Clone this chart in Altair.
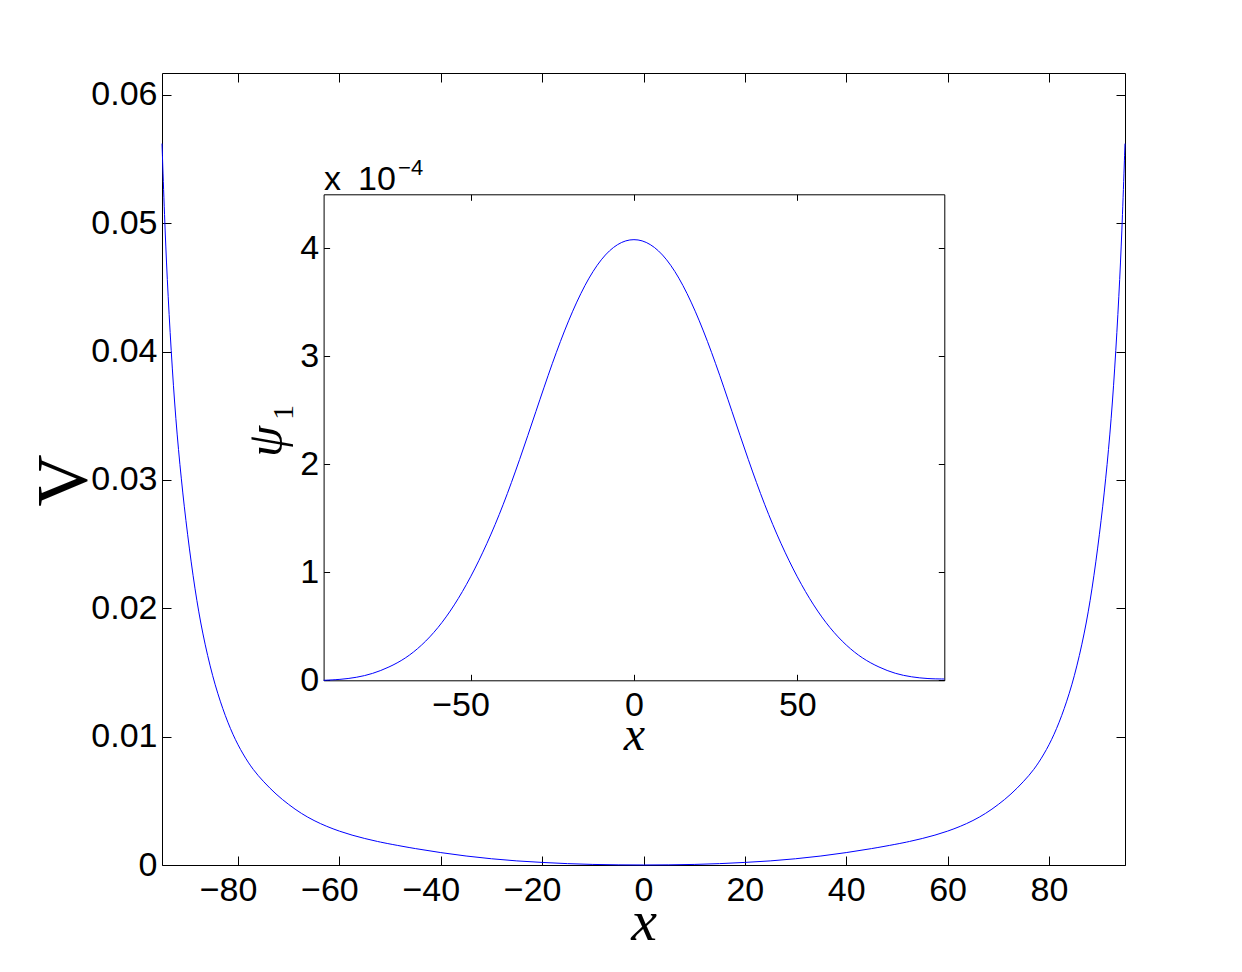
import altair as alt
import pandas as pd

# ---------------- data ----------------
# main curve V(x)
x_main = [-95, -94.5, -94, -93.2, -92.3, -91.2, -90, -88.5, -87, -85, -83, -81, -79, -77, -75,
          -72.5, -70, -67.5, -65, -62.5, -60, -57.5, -55, -52.5, -50, -45, -40, -35, -30, -25,
          -20, -15, -10, -5, 0,
          5, 10, 15, 20, 25, 30, 35, 40, 45, 50, 52.5, 55, 57.5, 60, 62.5, 65, 67.5, 70, 72.5,
          75, 77, 79, 81, 83, 85, 87, 88.5, 90, 91.2, 92.3, 93.2, 94, 94.5, 95]
v_main = [0.0562, 0.0505, 0.0458, 0.0400, 0.0347, 0.0300, 0.0258, 0.0214, 0.0180, 0.0146,
          0.0121, 0.0101, 0.0086, 0.0074, 0.0065, 0.0055, 0.0047, 0.0040, 0.00345, 0.00300,
          0.00263, 0.00232, 0.00206, 0.00183, 0.00163, 0.00127, 0.00096, 0.00069, 0.00048,
          0.00031, 0.00020, 0.00010, 0.00004, 0.00001, 0.0,
          0.00001, 0.00004, 0.00010, 0.00020, 0.00031, 0.00048, 0.00069, 0.00096, 0.00127,
          0.00163, 0.00183, 0.00206, 0.00232, 0.00263, 0.00300, 0.00345, 0.0040, 0.0047,
          0.0055, 0.0065, 0.0074, 0.0086, 0.0101, 0.0121, 0.0146, 0.0180, 0.0214, 0.0258,
          0.0300, 0.0347, 0.0400, 0.0458, 0.0505, 0.0562]

# inset curve psi_1(x), in units of 1e-4
x_inset = [-95, -90, -85, -80, -75, -70, -65, -60, -55, -50, -45, -40, -35, -30, -25, -20, -15,
           -10, -5, 0, 5, 10, 15, 20, 25, 30, 35, 40, 45, 50, 55, 60, 65, 70, 75, 80, 85, 90, 95]
psi1_e4 = [0.0, 0.007, 0.025, 0.06, 0.12, 0.20, 0.32, 0.48, 0.69, 0.95, 1.26, 1.62, 2.04, 2.49,
           2.94, 3.34, 3.67, 3.91, 4.05, 4.095, 4.05, 3.91, 3.67, 3.34, 2.94, 2.49, 2.04, 1.62,
           1.26, 0.95, 0.69, 0.48, 0.32, 0.20, 0.12, 0.06, 0.03, 0.014, 0.012]

main_x_pos = [0, 20, 40, 60, 80]
main_x_neg = [-80, -60, -40, -20]
main_x_ticks = main_x_neg + main_x_pos
main_y_ticks = [0, 0.01, 0.02, 0.03, 0.04, 0.05, 0.06]
inset_x_pos = [0, 50]
inset_x_neg = [-50]
inset_x_ticks = inset_x_neg + inset_x_pos
inset_y_ticks = [0, 1, 2, 3, 4]

main_df = pd.DataFrame({"x": x_main, "V": v_main})
inset_df = pd.DataFrame({"x": x_inset, "psi": psi1_e4})

# ---------------- layout (pixels inside the main plot area) ----------------
W, H = 963, 792
IX0, IX1 = 161.6, 782.3      # inset left / right
IYB, IYT = 607.3, 121.3      # inset bottom / top
MT, IT = 9, 6                # tick lengths
LBL = "Liberation Sans"
FS = 34
NEG_SHIFT = -10              # minus sign hangs left of the tick

sx_main = alt.Scale(domain=[-95, 95], range=[0, W], nice=False, zero=False)
sy_main = alt.Scale(domain=[0, 0.0617], range=[H, 0], nice=False, zero=False)
sx_in = alt.Scale(domain=[-95, 95], range=[IX0, IX1], nice=False, zero=False)
sy_in = alt.Scale(domain=[0, 4.5], range=[IYB, IYT], nice=False, zero=False)


def ax(**kw):
    base = dict(grid=False, domainColor="black", tickColor="black", labelColor="black",
                labelFont=LBL, labelFontSize=FS, domainWidth=1, tickWidth=1, titleColor="black")
    base.update(kw)
    return alt.Axis(**base)


def frame(**kw):
    return ax(labels=False, ticks=False, tickSize=0, domain=True, title=None, **kw)


def ticks(size, **kw):
    return ax(labels=False, ticks=True, tickSize=size, domain=False, title=None, **kw)


def labels_only(**kw):
    return ax(labels=True, ticks=False, tickSize=0, domain=False, title=None, **kw)


line_main = alt.Chart(main_df).mark_line(color="#0000ff", strokeWidth=1, interpolate="basis")
ghost_main = alt.Chart(main_df).mark_line(strokeOpacity=0)
line_in = alt.Chart(inset_df).mark_line(color="#0000ff", strokeWidth=1, interpolate="basis")
ghost_in = alt.Chart(inset_df).mark_line(strokeOpacity=0)

layers = [
    # main: labelled bottom / left axes
    line_main.encode(
        x=alt.X("x:Q", scale=sx_main, axis=ax(
            orient="bottom", values=main_x_pos, ticks=False, tickSize=0, labelPadding=8,
            title="x", titleFont="Liberation Serif", titleFontStyle="italic",
            titleFontWeight="normal", titleFontSize=58, titleX=W / 2, titleY=74,
            titleAlign="center", titleBaseline="alphabetic")),
        y=alt.Y("V:Q", scale=sy_main, axis=ax(
            orient="left", values=main_y_ticks, ticks=False, tickSize=0, labelPadding=5,
            labelExpr="datum.value == 0 ? '0' : format(datum.value, '.2f')",
            title="V", titleFont="Liberation Serif", titleFontWeight="normal", titleFontSize=72,
            titleAngle=270, titleX=-77, titleY=407, titleAlign="center",
            titleBaseline="alphabetic")),
    ),
    # main: negative x labels (digits centred on the tick)
    ghost_main.encode(
        x=alt.X("x:Q", scale=sx_main, axis=labels_only(
            orient="bottom", values=main_x_neg, labelPadding=8, labelOffset=NEG_SHIFT)),
        y=alt.Y("V:Q", scale=sy_main, axis=None),
    ),
    # main: inward ticks bottom / left
    ghost_main.encode(
        x=alt.X("x:Q", scale=sx_main, axis=ticks(MT, orient="bottom", values=main_x_ticks, offset=-MT)),
        y=alt.Y("V:Q", scale=sy_main, axis=ticks(MT, orient="left", values=main_y_ticks, offset=-MT)),
    ),
    # main: frame top / right
    ghost_main.encode(
        x=alt.X("x:Q", scale=sx_main, axis=frame(orient="top", values=main_x_ticks)),
        y=alt.Y("V:Q", scale=sy_main, axis=frame(orient="right", values=main_y_ticks)),
    ),
    # main: inward ticks top / right
    ghost_main.encode(
        x=alt.X("x:Q", scale=sx_main, axis=ticks(MT, orient="top", values=main_x_ticks, offset=-MT)),
        y=alt.Y("V:Q", scale=sy_main, axis=ticks(MT, orient="right", values=main_y_ticks, offset=-MT)),
    ),
    # inset: labelled bottom / left axes
    line_in.encode(
        x=alt.X("x:Q", scale=sx_in, axis=ax(
            orient="bottom", values=inset_x_pos, ticks=False, tickSize=0, labelPadding=8,
            offset=-(H - IYB), title="x", titleFont="Liberation Serif",
            titleFontStyle="italic", titleFontWeight="normal", titleFontSize=48,
            titleX=(IX0 + IX1) / 2, titleY=69, titleAlign="center", titleBaseline="alphabetic")),
        y=alt.Y("psi:Q", scale=sy_in, axis=ax(
            orient="left", values=inset_y_ticks, ticks=False, tickSize=0, labelPadding=5,
            offset=-IX0, format="d", title="ψ", titleFont="Liberation Serif",
            titleFontStyle="italic", titleFontWeight="normal", titleFontSize=50, titleAngle=270,
            titleX=-42, titleY=368, titleAlign="center", titleBaseline="alphabetic")),
    ),
    # inset: negative x label
    ghost_in.encode(
        x=alt.X("x:Q", scale=sx_in, axis=labels_only(
            orient="bottom", values=inset_x_neg, labelPadding=8, labelOffset=NEG_SHIFT,
            offset=-(H - IYB))),
        y=alt.Y("psi:Q", scale=sy_in, axis=None),
    ),
    # inset: inward ticks bottom / left (+ subscript of psi)
    ghost_in.encode(
        x=alt.X("x:Q", scale=sx_in, axis=ticks(IT, orient="bottom", values=inset_x_ticks,
                                                offset=-(H - IYB) - IT)),
        y=alt.Y("psi:Q", scale=sy_in, axis=ax(
            labels=False, ticks=True, tickSize=IT, domain=False, orient="left",
            values=inset_y_ticks, offset=-IX0 - IT, title="1", titleFont="Liberation Serif",
            titleFontWeight="normal", titleFontSize=30, titleAngle=270, titleX=-37,
            titleY=339, titleAlign="center", titleBaseline="alphabetic")),
    ),
    # inset: frame top / right (+ "x 10")
    ghost_in.encode(
        x=alt.X("x:Q", scale=sx_in, axis=ax(
            labels=False, ticks=False, tickSize=0, domain=True, orient="top",
            values=inset_x_ticks, offset=-IYT, title="x\u200210", titleFont=LBL,
            titleFontWeight="normal", titleFontSize=FS, titleAngle=0, titleX=IX0, titleY=-5,
            titleAlign="left", titleBaseline="alphabetic")),
        y=alt.Y("psi:Q", scale=sy_in, axis=frame(orient="right", values=inset_y_ticks,
                                                 offset=-(W - IX1))),
    ),
    # inset: inward ticks top / right (+ exponent "-4")
    ghost_in.encode(
        x=alt.X("x:Q", scale=sx_in, axis=ax(
            labels=False, ticks=True, tickSize=IT, domain=False, orient="top",
            values=inset_x_ticks, offset=-IYT - IT, title="\u22124", titleFont=LBL,
            titleFontWeight="normal", titleFontSize=22, titleAngle=0, titleX=IX0 + 74,
            titleY=-26, titleAlign="left", titleBaseline="alphabetic")),
        y=alt.Y("psi:Q", scale=sy_in, axis=ticks(IT, orient="right", values=inset_y_ticks,
                                                  offset=-(W - IX1) - IT)),
    ),
]

chart = (
    alt.layer(*layers)
    .resolve_scale(x="independent", y="independent")
    .properties(width=W, height=H,
                padding={"left": 154, "top": 65, "right": 90, "bottom": 90},
                autosize=alt.AutoSizeParams(type="none"))
    .configure_view(strokeOpacity=0)
    .configure(background="white")
)

chart.save("out.html", embed_options={"renderer": "svg", "actions": False})
